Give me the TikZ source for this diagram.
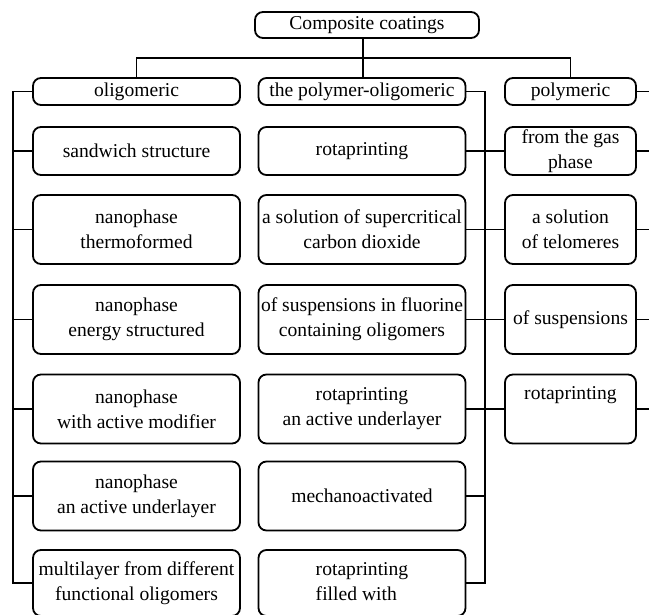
\documentclass[tikz,border=0pt]{standalone}
\usepackage{fontspec}
\setmainfont{Liberation Serif}
\usepackage{tikz}
\usetikzlibrary{positioning,calc}
\tikzset{%
	box/.style      = {draw, rectangle, rounded corners=4pt, line width=0.9pt, inner sep=1pt, align=center, font=\fontsize{9.8}{12.5}\selectfont},
	widebox/.style  = {box, minimum width=103.5pt},
	smallbox/.style = {box, minimum width=65.5pt},
	headrow/.style  = {minimum height=13.5pt},
	shortrow/.style = {minimum height=24pt},
	tallrow/.style  = {minimum height=34.5pt},
	link/.style     = {line width=0.9pt},
}
\begin{document}
\begin{tikzpicture}[x=0.5pt,y=-0.5pt]
		\useasboundingbox (0,0) rectangle (649,615);
		
		\node[box, minimum width=112pt, minimum height=13pt] (coat) at (367,25) {Composite coatings};
		
		% headers
		\node[widebox,headrow] (oligo) at (136.5,91.5) {oligomeric};
		\node[widebox,headrow] (polyoligo) at (362,91.5) {the polymer-oligomeric};
		\node[smallbox,headrow] (poly) at (570.5,91.5) {polymeric};
		
		% oligomeric column
		\node[widebox,shortrow] (ol1) at (136.5,151) {sandwich structure};
		\node[widebox,tallrow] (ol2) at (136.5,229.5) {nanophase\\thermoformed};
		\node[widebox,tallrow] (ol3) at (136.5,319.5) {nanophase\\energy structured};
		\node[widebox,tallrow] (ol4) at (136.5,409) {nanophase\\with active modifier};
		\node[widebox,tallrow] (ol5) at (136.5,496) {nanophase\\an active underlayer};
		\node[widebox,minimum height=33pt] (ol6) at (136.5,583) {multilayer from different\\functional oligomers};
		
		% polymer-oligomeric column
		\node[widebox,shortrow] (po1) at (362,151) {rotaprinting};
		\node[widebox,tallrow] (po2) at (362,229.5) {a solution of supercritical\\carbon dioxide};
		\node[widebox,tallrow] (po3) at (362,319.5) {of suspensions in fluorine\\containing oligomers};
		\node[widebox,tallrow] (po4) at (362,409) {rotaprinting\\an active underlayer};
		\node[widebox,tallrow] (po5) at (362,496) {mechanoactivated};
		\node[widebox,minimum height=33pt] (po6) at (362,583) {\begin{tabular}{@{}l@{}}rotaprinting\\filled with\end{tabular}};
		
		% polymeric column
		\node[smallbox,shortrow] (pm1) at (570.5,151) {from the gas\\phase};
		\node[smallbox,tallrow] (pm2) at (570.5,229.5) {a solution\\of telomeres};
		\node[smallbox,tallrow] (pm3) at (570.5,319.5) {of suspensions};
		\node[smallbox,tallrow] (pm4) at (570.5,409) {rotaprinting\\\strut};
		
		\coordinate (lbus) at (13,0);
		\coordinate (mbus) at (485,0);
		\coordinate (split) at (363,58);
		
		% top level
		\draw[link] (coat.south -| split) -- (polyoligo.north -| split);
		\draw[link] (oligo.north) -- (oligo.north |- split) -| (poly.north);
		
		% left bus
		\draw[link] (oligo.west) -| (lbus |- ol6.west) -- (ol6.west);
		\draw[link] (ol1.west) -- (ol1.west -| lbus);
		\draw[link] (ol2.west) -- (ol2.west -| lbus);
		\draw[link] (ol3.west) -- (ol3.west -| lbus);
		\draw[link] (ol4.west) -- (ol4.west -| lbus);
		\draw[link] (ol5.west) -- (ol5.west -| lbus);
		
		% middle bus
		\draw[link] (polyoligo.east) -| (mbus |- po6.east) -- (po6.east);
		\draw[link] (po1.east) -- (pm1.west);
		\draw[link] (po2.east) -- (pm2.west);
		\draw[link] (po3.east) -- (pm3.west);
		\draw[link] (po4.east) -- (pm4.west);
		\draw[link] (po5.east) -- (po5.east -| mbus);
		
		% right stubs
		\draw[link] (poly.east) -- ++(16,0);
		\draw[link] (pm1.east) -- ++(16,0);
		\draw[link] (pm2.east) -- ++(16,0);
		\draw[link] (pm3.east) -- ++(16,0);
		\draw[link] (pm4.east) -- ++(16,0);
		\end{tikzpicture}
\end{document}
